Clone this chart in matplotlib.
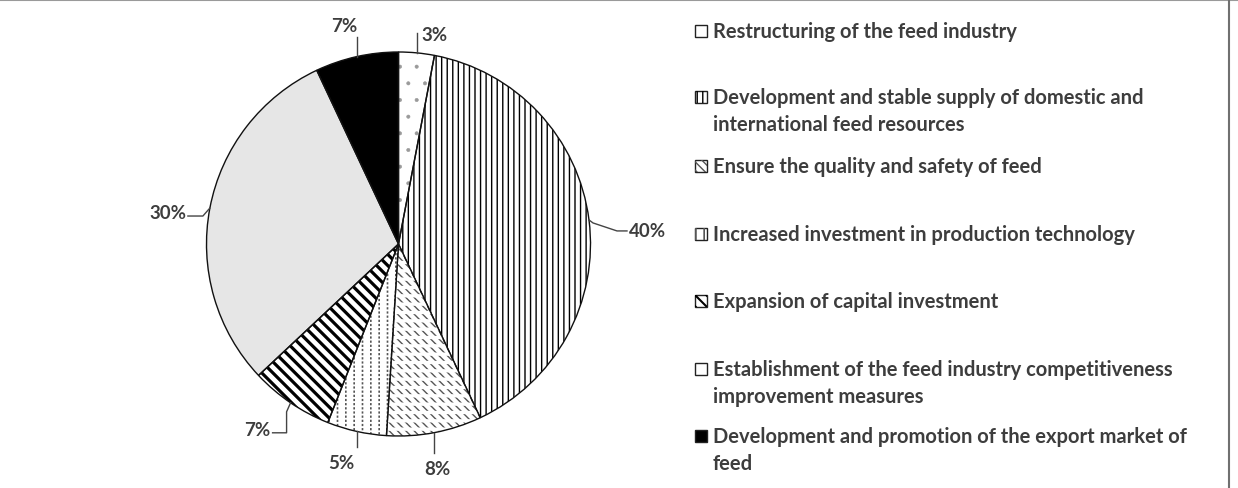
"""
Pie of feed industry policy priorities, hatched like the Excel original.
"""

import numpy as np
import matplotlib
matplotlib.use("Agg")
import matplotlib.pyplot as plt
from matplotlib.patches import Wedge, Rectangle
from matplotlib.lines import Line2D

# ---- data ----
categories = [
    "Restructuring of the feed industry",
    "Development and stable supply of domestic and\ninternational feed resources",
    "Ensure the quality and safety of feed",
    "Increased investment in production technology",
    "Expansion of capital investment",
    "Establishment of the feed industry competitiveness\nimprovement measures",
    "Development and promotion of the export market of\nfeed",
]
shares = [3, 40, 8, 5, 7, 30, 7]

# ---- styles ----
W, H = 1238, 489
TXT = "#3d3d3d"
FONT = "Lato"
face = ["white", "white", "white", "white", "white", "#e6e6e6", "black"]
# hatch layers per slice: (hatch, colour, hatch linewidth)
hatches = [
    [(".", "#9a9a9a", 0.4)],
    [("|||", "black", 1.0)],
    [("\\\\\\\\", "#555555", 1.0), ("--", "white", 2.4)],
    [("||", "#555555", 1.2), ("----", "white", 1.4)],
    [("\\\\\\", "black", 2.3)],
    [],
    [],
]
cx, cy, R = 398.5, 245, 192

# leader lines (offsets from the slice edge point) and label offset / alignment
leaders = [
    ([(0, 0), (0, -20)], (5, -18), "left"),
    ([(0, 0), (4, 3), (28, 11), (38, 11)], (40, 11), "left"),
    ([(0, 0), (0, 20)], (3, 36), "center"),
    ([(0, 0), (0, 16)], (-15, 31), "center"),
    ([(0, 0), (-4, 9), (-4, 30), (-18, 30)], (-20, 27), "right"),
    ([(0, 0), (-7, 8), (-22, 8)], (-23, 4), "right"),
    ([(0, 0), (0, -20)], (1, -31), "right"),
]


def hatched(patch_args, layer):
    h, col, lw = layer
    with plt.rc_context({"hatch.linewidth": lw}):
        p = Wedge(*patch_args, facecolor="none", edgecolor=col, linewidth=0, hatch=h)
    if hasattr(p, "set_hatch_linewidth"):
        p.set_hatch_linewidth(lw)
    return p


fig = plt.figure(figsize=(W / 100, H / 100), dpi=100)
ax = fig.add_axes([0, 0, 1, 1])

# y axis runs downward (pixel coords), so clockwise on screen = counterclock in data
wedges, _ = ax.pie(shares, colors=face, startangle=-90, counterclock=True,
                   center=(cx, cy), radius=R,
                   wedgeprops=dict(edgecolor="none", linewidth=0))

for w, layers, val, (path, toff, ha) in zip(wedges, hatches, shares, leaders):
    args = (w.center, w.r, w.theta1, w.theta2)
    for layer in layers:
        ax.add_patch(hatched(args, layer))
    ax.add_patch(Wedge(*args, facecolor="none", edgecolor="#111111", linewidth=1.0))

    mid = np.deg2rad((w.theta1 + w.theta2) / 2)
    ex, ey = cx + R * np.cos(mid), cy + R * np.sin(mid)
    xs = [ex + dx for dx, dy in path]
    ys = [ey + dy for dx, dy in path]
    ax.plot(xs, ys, color="#444444", lw=1.0)
    ax.text(ex + toff[0], ey + toff[1], f"{val}%", ha=ha, va="center",
            fontsize=13.5, fontweight="bold", family=FONT, color=TXT)

# legend, drawn by hand to keep the uneven spacing of the original
leg_y = [32, 98, 167, 235, 302, 370, 437]
line_step = 27
for i, (lab, y) in enumerate(zip(categories, leg_y)):
    fc = face[i] if face[i] != "#e6e6e6" else "white"
    box = Rectangle((695, y - 6), 12, 12, facecolor=fc, edgecolor="#222222", lw=1.0)
    ax.add_patch(box)
    if i > 0:
        for h, col, lw in hatches[i][:1]:
            with plt.rc_context({"hatch.linewidth": min(lw, 1.5)}):
                hb = Rectangle((695, y - 6), 12, 12, facecolor="none", edgecolor=col,
                               lw=0, hatch=h)
            ax.add_patch(hb)
    for k, part in enumerate(lab.split("\n")):
        ax.text(713, y + k * line_step, part, ha="left", va="center",
                fontsize=14.5, fontweight="bold", family=FONT, color=TXT)

ax.set_aspect("auto")
ax.set_xlim(0, W)
ax.set_ylim(H, 0)
ax.axis("off")

# thin grey frame lines along the top and right edge
fig.add_artist(Line2D([0, 1], [1 - 1 / H, 1 - 1 / H], color="#9a9a9a", lw=1.5,
                      transform=fig.transFigure))
fig.add_artist(Line2D([1229 / W, 1229 / W], [0, 1], color="#707070", lw=1.5,
                      transform=fig.transFigure))

fig.savefig("out.png", dpi=100, facecolor="white")
